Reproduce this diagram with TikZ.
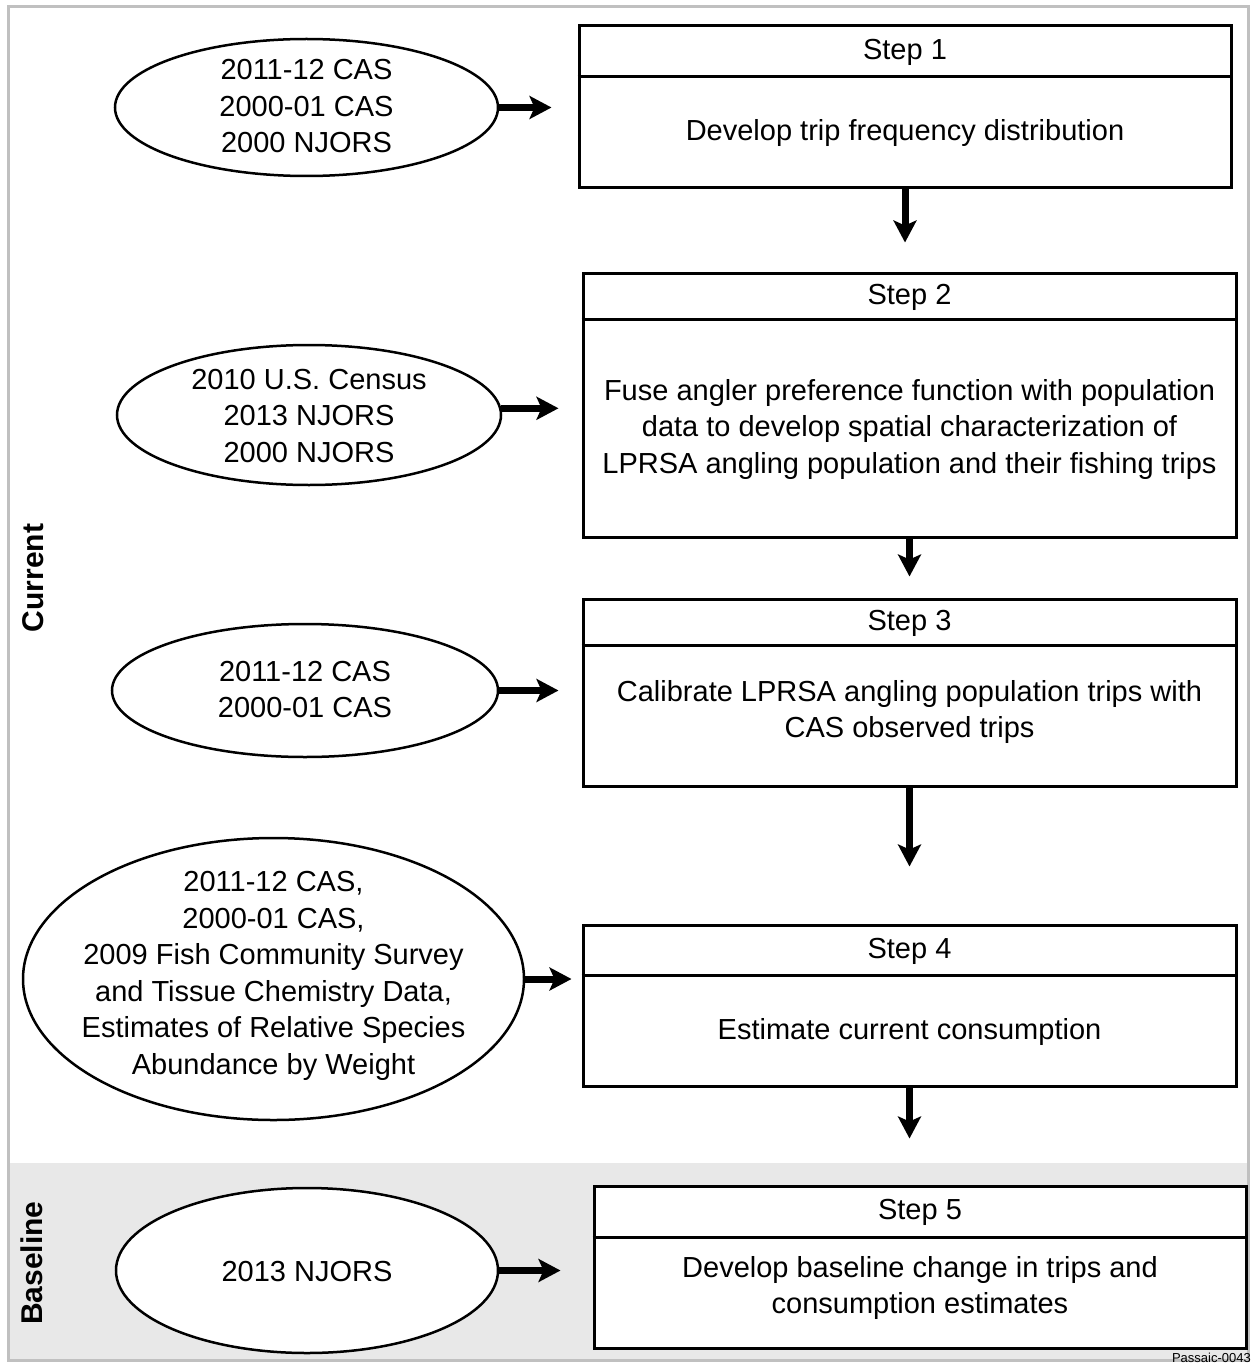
\documentclass[tikz,border=0pt]{standalone}
\usepackage{fontspec}
\setmainfont{Liberation Sans}
\usetikzlibrary{shapes.geometric,arrows.meta}
\definecolor{framegray}{RGB}{192,192,192}
\definecolor{basegray}{RGB}{232,232,232}
\begin{document}
\begin{tikzpicture}[x=1pt,y=-1pt,
  stepbox/.style={draw, line width=3pt, fill=white, inner sep=0pt, rectangle},
  divline/.style={line width=2.2pt},
  ell/.style={draw, ellipse, line width=2.5pt, fill=white, inner sep=0pt},
  txt/.style={align=center, inner sep=0pt, font=\fontsize{29}{36.5}\selectfont},
  side/.style={rotate=90, inner sep=0pt, font=\fontsize{30}{36}\selectfont\bfseries},
  tag/.style={anchor=base east, inner sep=0pt, font=\fontsize{13}{15}\selectfont},
  flow/.style={line width=7pt, -{Stealth[length=22pt, width=23pt, inset=5pt]}}
]
\useasboundingbox (0,0) rectangle (1252,1364);
\fill[white] (0,0) rectangle (1252,1364);
\fill[basegray] (10,1163) rectangle (1247,1359);
\draw[framegray, line width=3pt] (8.5,6.5) rectangle (1248.5,1360.5);

% step boxes
\node[stepbox, minimum width=652pt, minimum height=162pt] (s1) at (905,107) {};
\draw[divline] ([yshift=-52pt]s1.north west) -- ([yshift=-52pt]s1.north east);
\node[txt] (s1t) at (905,52) {Step 1};
\node[txt] (s1b) at (905,133) {Develop trip frequency distribution};

\node[stepbox, minimum width=653pt, minimum height=264pt] (s2) at (909.5,405) {};
\draw[divline] ([yshift=-48pt]s2.north west) -- ([yshift=-48pt]s2.north east);
\node[txt] (s2t) at (909.5,297) {Step 2};
\node[txt] (s2b) at (909.5,429) {Fuse angler preference function with population\\data to develop spatial characterization of\\LPRSA angling population and their fishing trips};

\node[stepbox, minimum width=653pt, minimum height=187pt] (s3) at (909.5,692.5) {};
\draw[divline] ([yshift=-48pt]s3.north west) -- ([yshift=-48pt]s3.north east);
\node[txt] (s3t) at (909.5,623) {Step 3};
\node[txt] (s3b) at (909.5,712) {Calibrate LPRSA angling population trips with\\CAS observed trips};

\node[stepbox, minimum width=653pt, minimum height=161pt] (s4) at (909.5,1005.5) {};
\draw[divline] ([yshift=-52pt]s4.north west) -- ([yshift=-52pt]s4.north east);
\node[txt] (s4t) at (909.5,951) {Step 4};
\node[txt] (s4b) at (909.5,1032) {Estimate current consumption};

\node[stepbox, minimum width=652pt, minimum height=162pt] (s5) at (920,1267) {};
\draw[divline] ([yshift=-53pt]s5.north west) -- ([yshift=-53pt]s5.north east);
\node[txt] (s5t) at (920,1212) {Step 5};
\node[txt] (s5b) at (920,1288) {Develop baseline change in trips and\\consumption estimates};

% source ellipses
\node[ell, minimum width=383pt, minimum height=137pt] (e1) at (306.5,107.5) {};
\node[txt] (e1t) at (306.5,106.5) {2011-12 CAS\\2000-01 CAS\\2000 NJORS};

\node[ell, minimum width=384pt, minimum height=140pt] (e2) at (309,415) {};
\node[txt] (e2t) at (309,416) {2010 U.S. Census\\2013 NJORS\\2000 NJORS};

\node[ell, minimum width=386pt, minimum height=133pt] (e3) at (305,690.5) {};
\node[txt] (e3t) at (305,689.5) {2011-12 CAS\\2000-01 CAS};

\node[ell, minimum width=501pt, minimum height=282pt] (e4) at (273.5,979) {};
\node[txt] (e4t) at (273.5,976) {2011-12 CAS,\\2000-01 CAS,\\2009 Fish Community Survey\\and Tissue Chemistry Data,\\Estimates of Relative Species\\Abundance by Weight};

\node[ell, minimum width=382pt, minimum height=165pt] (e5) at (307,1270.5) {};
\node[txt] (e5t) at (307,1272) {2013 NJORS};

% side labels
\node[side] (cur) at (33,578) {Current};
\node[side] (base) at (32,1263) {Baseline};
\node[tag] (id) at (1251,1362) {Passaic-0043};

% connectors
\draw[flow, shorten >=26pt] (e1.east) -- (e1.east -| s1.west);
\draw[flow, shorten >=23pt] (e2.2) -- (e2.2 -| s2.west);
\draw[flow, shorten >=23pt] (e3.east) -- (e3.east -| s3.west);
\draw[flow, shorten >=10pt] (e4.east) -- (e4.east -| s4.west);
\draw[flow, shorten >=32pt] (e5.east) -- (e5.east -| s5.west);

\draw[flow, shorten >=29pt] (s1.south) -- (s1.south |- s2.north);
\draw[flow, shorten >=21pt] (s2.south) -- (s2.south |- s3.north);
\draw[flow, shorten >=57pt] (s3.south) -- (s3.south |- s4.north);
\draw[flow, shorten >=46pt] (s4.south) -- (s4.south |- s5.north);
\end{tikzpicture}
\end{document}
